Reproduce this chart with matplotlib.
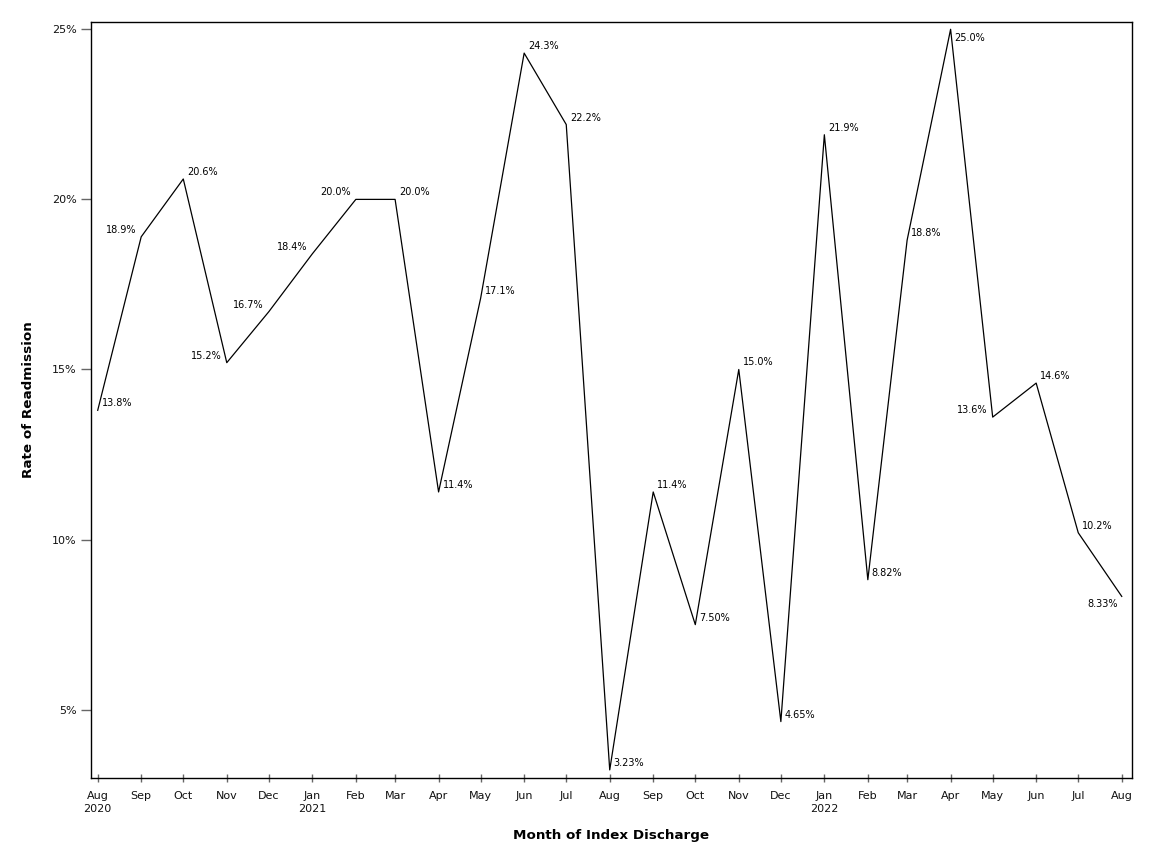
import matplotlib
matplotlib.use("Agg")
import matplotlib.pyplot as plt
import matplotlib.dates as mdates
from matplotlib.ticker import FuncFormatter, FixedLocator
import numpy as np
import datetime as dt

# ---- data ----
months = ["2020-08", "2020-09", "2020-10", "2020-11", "2020-12",
          "2021-01", "2021-02", "2021-03", "2021-04", "2021-05", "2021-06",
          "2021-07", "2021-08", "2021-09", "2021-10", "2021-11", "2021-12",
          "2022-01", "2022-02", "2022-03", "2022-04", "2022-05", "2022-06",
          "2022-07", "2022-08"]
rates = [13.8, 18.9, 20.6, 15.2, 16.7, 18.4, 20.0, 20.0, 11.4, 17.1, 24.3,
         22.2, 3.23, 11.4, 7.50, 15.0, 4.65, 21.9, 8.82, 18.8, 25.0, 13.6,
         14.6, 10.2, 8.33]
y_ticks = [5, 10, 15, 20, 25]
x_title = "Month of Index Discharge"
y_title = "Rate of Readmission"

# label placement: R = right/above, L = left/above, RB = right/below, LB = left/below
placement = ["R", "L", "R", "L", "L", "L", "L", "R", "R", "R", "R", "R", "R",
             "R", "R", "R", "R", "R", "R", "R", "RB", "L", "R", "R", "LB"]

dates = [dt.datetime.strptime(m + "-01", "%Y-%m-%d") for m in months]
xn = mdates.date2num(dates)

plt.rcParams['font.family'] = ['DejaVu Sans']

fig = plt.figure(figsize=(11.52, 8.64), dpi=100)
W, H = 1152, 864
left, right, top, bottom = 90.7, 1131.7, 21.7, 778.3
ax = fig.add_axes([left / W, 1 - bottom / H, (right - left) / W, (bottom - top) / H])

ax.plot(xn, rates, color="black", lw=0.9)

for x, v, p in zip(xn, rates, placement):
    s = (f"{v:.2f}%" if v < 10 else f"{v:.1f}%")
    if p == "R":
        off, ha, va = (4, 4), "left", "baseline"
    elif p == "L":
        off, ha, va = (-5, 4), "right", "baseline"
    elif p == "RB":
        off, ha, va = (4, -4), "left", "top"
    else:
        off, ha, va = (-4, -3), "right", "top"
    ax.annotate(s, (x, v), xytext=off, textcoords="offset pixels",
                ha=ha, va=va, fontsize=7, color="black")

x0 = mdates.date2num(dt.datetime(2020, 8, 1)) - 5
x1 = mdates.date2num(dt.datetime(2022, 8, 1)) + 7.1
ax.set_xlim(x0, x1)
ax.set_ylim(2.983, 25.223)

ax.yaxis.set_major_locator(FixedLocator(y_ticks))
ax.yaxis.set_major_formatter(FuncFormatter(lambda v, p: f"{v:.0f}%"))

ax.xaxis.set_major_locator(FixedLocator(xn))
labels = []
for d in dates:
    lab = d.strftime("%b")
    if d.month == 1 or d == dates[0]:
        lab += "\n" + d.strftime("%Y")
    labels.append(lab)
ax.set_xticklabels(labels, linespacing=1.45)

ax.tick_params(axis="y", direction="out", length=7, width=1.0, color="#666666",
               labelsize=8, labelcolor="#111111", pad=3)
ax.tick_params(axis="x", direction="inout", length=6, width=1.0, color="#666666",
               labelsize=8, labelcolor="#111111", pad=6)
for sp in ax.spines.values():
    sp.set_linewidth(1.0)
    sp.set_color("black")

fig.text(29 / W, 1 - 400 / H, y_title, rotation=90, ha="center", va="center",
         fontsize=9.7, fontweight="bold")
fig.text((left + right) / 2 / W, 1 - 835 / H, x_title, ha="center", va="center",
         fontsize=9.7, fontweight="bold")

fig.savefig("out.png", dpi=100)
